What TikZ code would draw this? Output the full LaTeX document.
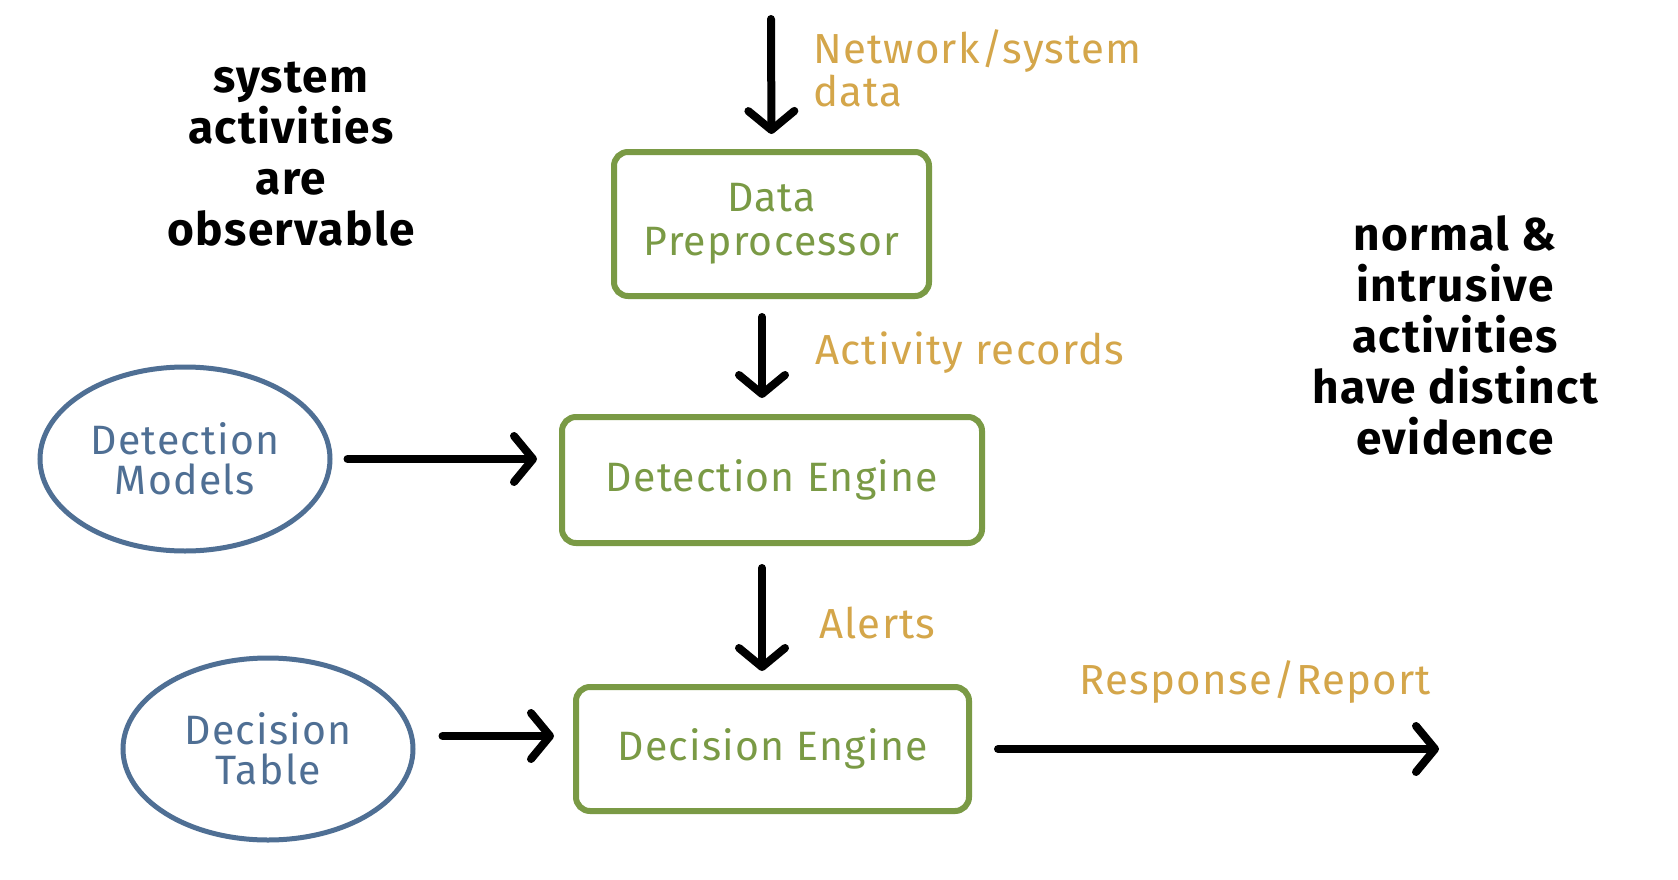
\documentclass[tikz,border=0pt]{standalone}
\usepackage{fontspec}
\setmainfont{Fira Sans}[LetterSpace=3]
\usetikzlibrary{arrows.meta,shapes.geometric,calc}
\definecolor{boxgreen}{HTML}{7A9A45}
\definecolor{ellblue}{HTML}{4F6F94}
\definecolor{lblgold}{HTML}{D4A64A}
\tikzset{
  procbox/.style={draw=boxgreen, line width=6pt, rounded corners=14pt, text=boxgreen, align=center, inner sep=0pt, font=\fontsize{41}{44}\selectfont},
  srcell/.style={draw=ellblue, ellipse, line width=5pt, text=ellblue, align=center, inner sep=0pt, font=\fontsize{41}{40}\selectfont},
  flow/.style={line width=8pt, line cap=round, -{Straight Barb[length=19pt,width=46pt,line cap=round,line join=round]}},
  flowlbl/.style={text=lblgold, anchor=west, align=left, inner sep=0pt, font=\fontsize{42}{43}\selectfont},
  note/.style={text=black, align=center, inner sep=0pt, font=\bfseries\fontsize{46}{51}\selectfont},
}
\begin{document}
\begin{tikzpicture}[x=1pt,y=-1pt]
\useasboundingbox[fill=white] (0,0) rectangle (1678,880);
% boxes
\node[procbox, minimum width=315pt, minimum height=144pt] (dp) at (771.5,224) {Data\\Preprocessor};
\node[procbox, minimum width=420pt, minimum height=126pt] (de) at (772,480) {Detection Engine};
\node[procbox, minimum width=393pt, minimum height=124pt] (dce) at (772.5,749) {Decision Engine};
% ellipses
\node[srcell, minimum width=290pt, minimum height=184pt] (dm) at (185,459) {Detection\\Models};
\node[srcell, minimum width=290pt, minimum height=182pt] (dt) at (268,749) {Decision\\Table};
% free ends
\coordinate (in) at (771,19);
\coordinate (out) at (1439,749);
% connectors
\draw[flow, shorten >=15pt] (in) -- (dp.north);
\draw[flow, shorten <=18pt, shorten >=16pt] ($(dp.south)+(-9.5,0)$) -- ($(de.north)+(-10,0)$);
\draw[flow, shorten <=15pt, shorten >=22pt] (dm.east) -- (dm.east -| de.west);
\draw[flow, shorten <=22pt, shorten >=13pt] ($(de.south)+(-10,0)$) -- ($(dce.north)+(-10.5,0)$);
\draw[flow, shorten <=27pt, shorten >=19pt] ($(dt.east)+(0,-13)$) -- ($(dce.west)+(0,-13)$);
\draw[flow, shorten <=26pt] (dce.east) -- (out);
% labels
\node[flowlbl] (l1) at (813,68) {Network/system\\data};
\node[flowlbl] (l2) at (815,353) {Activity records};
\node[flowlbl] (l3) at (819,623) {Alerts};
\node[flowlbl] (l4) at (1079,682) {Response/Report};
% notes
\node[note] (n1) at (291,154) {system\\activities\\are\\observable};
\node[note] (n2) at (1455,335) {normal \&\\intrusive\\activities\\have distinct\\evidence};
\end{tikzpicture}
\end{document}
